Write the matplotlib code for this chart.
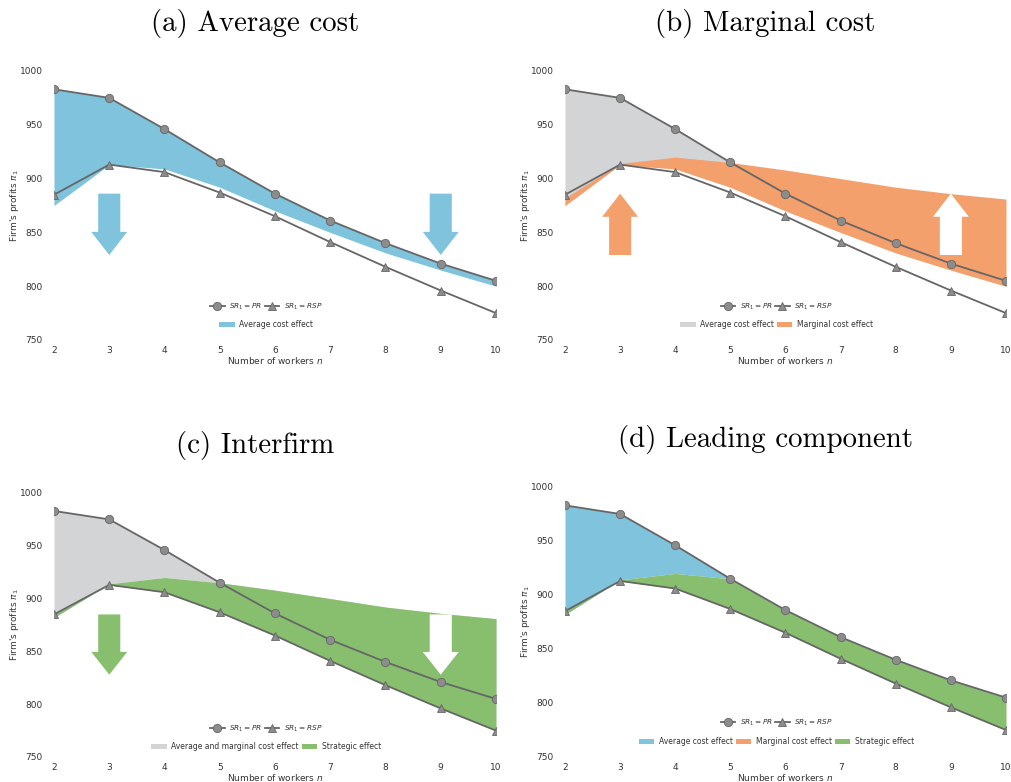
import matplotlib
matplotlib.use("Agg")
import matplotlib.pyplot as plt
from matplotlib.lines import Line2D
from matplotlib.patches import Patch
import numpy as np

# Number of workers and firm 1's profits under each scenario
workers = [2, 3, 4, 5, 6, 7, 8, 9, 10]
profit_pr = [983, 975, 946, 915, 886, 861, 840, 821, 805]
profit_rsp = [885, 913, 906, 887, 865, 841, 818, 796, 775]
profit_after_avg = [875, 913, 909, 892, 870, 850, 831, 815, 800]
profit_after_marg = [882, 914, 920, 915, 908, 900, 892, 886, 881]

panel_titles = ["(a) Average cost", "(b) Marginal cost", "(c) Interfirm", "(d) Leading component"]
yticks = [750, 800, 850, 900, 950, 1000]

BLUE = "#7fc3dc"
ORANGE = "#f4a06c"
GREEN = "#88bf6f"
GRAY = "#d3d4d6"
LINE = "#666666"
MARK = "#8c8c8c"
TEXT = "#333333"

n = np.array(workers, dtype=float)
pr = np.array(profit_pr, dtype=float)
rsp = np.array(profit_rsp, dtype=float)
avg = np.array(profit_after_avg, dtype=float)
marg = np.array(profit_after_marg, dtype=float)

fig = plt.figure(figsize=(10.12, 7.82), dpi=100)
W, H = 1012.0, 782.0


def make_axes(left, right, top, bottom):
    return fig.add_axes([left / W, 1 - bottom / H, (right - left) / W, (bottom - top) / H])


axes = [
    make_axes(54, 496, 71, 340),
    make_axes(565, 1006, 71, 340),
    make_axes(54, 496, 493, 757),
    make_axes(565, 1006, 487, 757),
]


def draw_lines(ax):
    ax.plot(n, pr, color=LINE, lw=1.3, marker="o", ms=6, mfc=MARK, mec=LINE, mew=0.6, zorder=5)
    ax.plot(n, rsp, color=LINE, lw=1.3, marker="^", ms=6, mfc=MARK, mec=LINE, mew=0.6, zorder=5)


def arrow(ax, x, y0, y1, color):
    ax.arrow(x, y0, 0, y1 - y0, width=0.4, head_width=0.65, head_length=21.5,
             length_includes_head=True, color=color, lw=0, zorder=4)


def style(ax, title, line_y, patch_y, patches):
    ax.set_xlim(2, 10)
    ax.set_ylim(750, 1000)
    ax.set_xticks(workers)
    ax.set_yticks(yticks)
    for s in ax.spines.values():
        s.set_visible(False)
    ax.tick_params(axis="both", length=0, labelsize=6.5, colors=TEXT)
    ax.tick_params(axis="y", pad=8)
    ax.tick_params(axis="x", pad=4)
    ax.set_xlabel("Number of workers $n$", fontsize=6.5, color=TEXT, labelpad=0)
    ax.set_ylabel("Firm's profits $\\pi_1$", fontsize=6.5, color=TEXT, labelpad=-1)
    ax.set_title(title, x=0.455, fontsize=20.8, family="cmr10", pad=29)
    handles = [
        Line2D([], [], color=LINE, lw=1.3, marker="o", ms=6, mfc=MARK, mec=LINE, mew=0.6),
        Line2D([], [], color=LINE, lw=1.3, marker="^", ms=6, mfc=MARK, mec=LINE, mew=0.6),
    ]
    leg1 = ax.legend(handles, ["$SR_1 = PR$", "$SR_1 = RSP$"], ncol=2, loc="center",
                     bbox_to_anchor=(0.48, line_y), frameon=False, fontsize=5.3,
                     handlelength=2.0, handletextpad=0.6, columnspacing=0.3,
                     labelcolor=TEXT)
    ax.add_artist(leg1)
    ph = [Patch(facecolor=c, edgecolor="none") for c, _ in patches]
    ax.legend(ph, [l for _, l in patches], ncol=len(patches), loc="center",
              bbox_to_anchor=(0.48, patch_y), frameon=False, fontsize=5.5,
              handlelength=2.0, handleheight=0.6, handletextpad=0.6, columnspacing=0.4,
              labelcolor=TEXT)


# (a) average cost effect
ax = axes[0]
ax.fill_between(n, pr, avg, color=BLUE, lw=0, zorder=2)
draw_lines(ax)
arrow(ax, 3, 886, 829, BLUE)
arrow(ax, 9, 886, 829, BLUE)
style(ax, panel_titles[0], 0.123, 0.056, [(BLUE, "Average cost effect")])

# (b) marginal cost effect
ax = axes[1]
ax.fill_between(n, pr, avg, color=GRAY, lw=0, zorder=2)
ax.fill_between(n, avg, marg, color=ORANGE, lw=0, zorder=3)
draw_lines(ax)
arrow(ax, 3, 829, 886, ORANGE)
arrow(ax, 9, 829, 886, "white")
style(ax, panel_titles[1], 0.123, 0.056,
      [(GRAY, "Average cost effect"), (ORANGE, "Marginal cost effect")])

# (c) interfirm (strategic) effect
ax = axes[2]
ax.fill_between(n, pr, marg, color=GRAY, lw=0, zorder=2)
ax.fill_between(n, marg, rsp, color=GREEN, lw=0, zorder=3)
draw_lines(ax)
arrow(ax, 3, 885, 828, GREEN)
arrow(ax, 9, 885, 828, "white")
style(ax, panel_titles[2], 0.106, 0.038,
      [(GRAY, "Average and marginal cost effect"), (GREEN, "Strategic effect")])

# (d) leading component at each n
ax = axes[3]
ax.fill_between(n, pr, marg, where=marg <= pr, interpolate=True, color=BLUE, lw=0, zorder=2)
ax.fill_between(n, np.minimum(pr, marg), rsp, color=GREEN, lw=0, zorder=3)
draw_lines(ax)
style(ax, panel_titles[3], 0.126, 0.056,
      [(BLUE, "Average cost effect"), (ORANGE, "Marginal cost effect"), (GREEN, "Strategic effect")])

fig.savefig("out.png", dpi=100, facecolor="white")
